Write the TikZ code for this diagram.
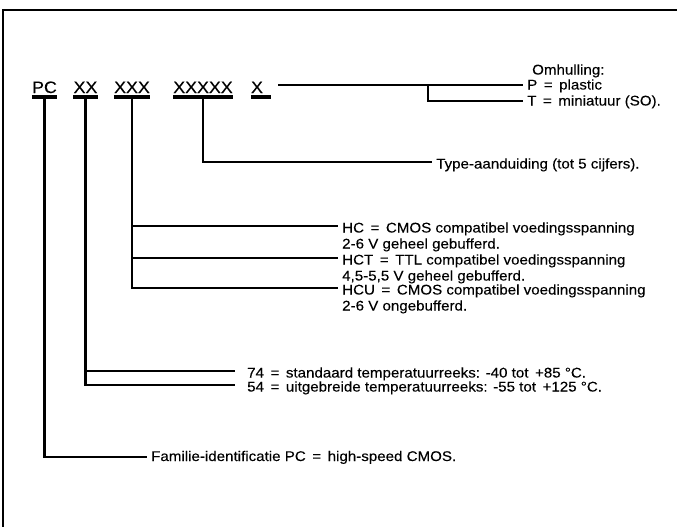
\documentclass[tikz,border=0pt]{standalone}
\usepackage{fontspec}
\setmainfont{Liberation Sans}[FakeStretch=1.08, FakeBold=0.15]
\usetikzlibrary{positioning}

\begin{document}
\begin{tikzpicture}[
    x=1pt, y=-1pt,
    code/.style={inner sep=0pt, anchor=base, font=\fontsize{16.5}{19}\selectfont},
    lbl/.style={anchor=west, inner xsep=4pt, inner ysep=0pt, text height=13pt, text depth=0pt,
                font=\fontsize{14}{16}\selectfont},
    sub/.style={anchor=base west, inner xsep=4pt, inner ysep=0pt, font=\fontsize{14}{16}\selectfont},
    conn/.style={line width=2.8pt},
    uline/.style={line width=3.5pt}
]
\useasboundingbox (0,0) rectangle (677,527);
\draw[line width=1.8pt] (3,540) -- (3,10) -- (690,10);

% type code
\node[code] (pc)    at (44.5,93)  {PC};
\node[code] (xx)    at (85.5,93)  {XX};
\node[code] (xxx)   at (132,93)   {XXX};
\node[code] (xxxxx) at (203,93)   {XXXXX};
\node[code] (xsel)  at (257,93)   {X};
\foreach \n in {pc,xx,xxx,xxxxx}
    \draw[uline] ([yshift=-4pt]\n.base west) -- ([yshift=-4pt]\n.base east);
\draw[uline] ([yshift=-4pt]xsel.base west) -- ([shift={(8pt,-4pt)}]xsel.base east);

% explanations
\node[lbl, text height=9pt] (plastic) at (523,85)  {P \,=\, plastic};
\node[lbl, text height=9pt] (mini)    at (523,101) {T \,=\, miniatuur (SO).};
\node[sub] (omh) at ([shift={(5pt,15pt)}]plastic.base west) {Omhulling:};
\node[lbl] (type) at (432,162) {Type-aanduiding (tot 5 cijfers).};
\node[lbl] (hc)   at (338,226) {HC \,=\, CMOS compatibel voedingsspanning};
\node[sub] (hc2)  at ([yshift=-16pt]hc.base west) {2-6 V geheel gebufferd.};
\node[lbl] (hct)  at (338,258) {HCT \,=\, TTL compatibel voedingsspanning};
\node[sub] (hct2) at ([yshift=-16pt]hct.base west) {4,5-5,5 V geheel gebufferd.};
\node[lbl] (hcu)  at (338,288) {HCU \,=\, CMOS compatibel voedingsspanning};
\node[sub] (hcu2) at ([yshift=-16pt]hcu.base west) {2-6 V ongebufferd.};
\node[lbl, inner xsep=12pt] (t74) at (235,371) {74 \,=\, standaard temperatuurreeks: -40 tot \,+85 °C.};
\node[lbl, inner xsep=12pt] (t54) at (235,385) {54 \,=\, uitgebreide temperatuurreeks: -55 tot \,+125 °C.};
\node[lbl, text height=8pt] (fam) at (147,457) {Familie-identificatie PC \,=\, high-speed CMOS.};

% connectors
\coordinate (xstart) at ([xshift=15pt]xsel.east);
\draw[conn] (xstart |- plastic.west) -- (plastic.west);
\draw[conn] ([xshift=-95pt]plastic.west) |- (mini.west);
\draw[conn] ([yshift=-4pt]xxxxx.base) |- (type.west);
\foreach \t in {hc,hct,hcu}
    \draw[conn] ([yshift=-4pt]xxx.base) |- (\t.west);
\draw[conn] ([yshift=-4pt]xx.base) |- (t74.west);
\draw[conn] ([yshift=-4pt]xx.base) |- (t54.west);
\draw[conn] ([yshift=-4pt]pc.base) |- (fam.west);
\end{tikzpicture}
\end{document}
